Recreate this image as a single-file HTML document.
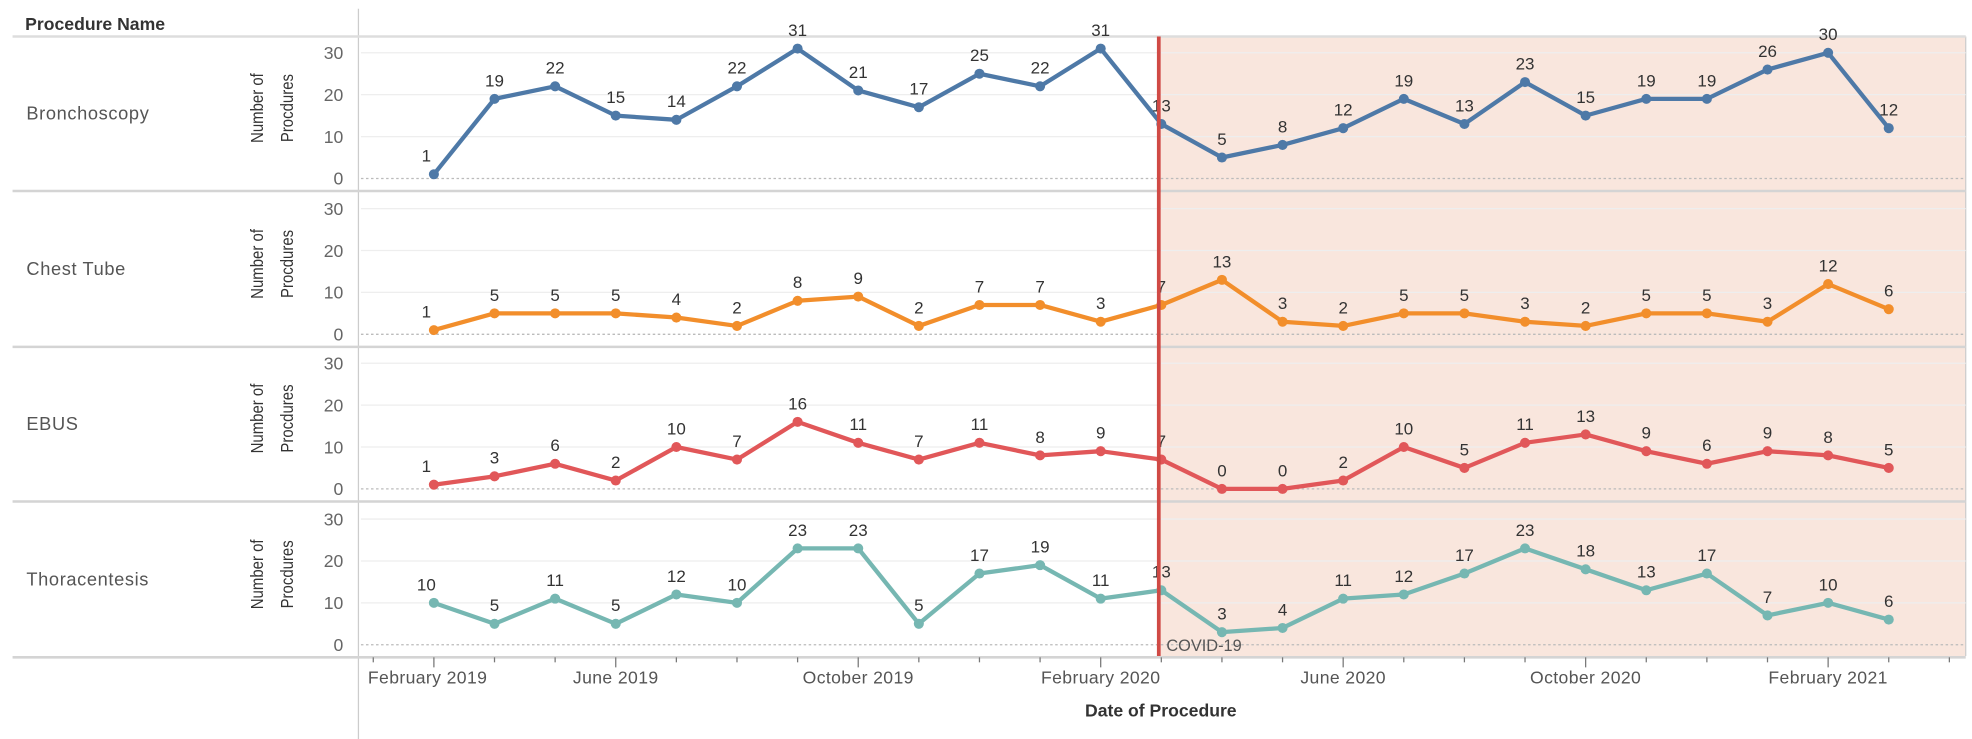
<!DOCTYPE html>
<html><head><meta charset="utf-8"><style>
html,body{margin:0;padding:0;background:#fff;}
svg{display:block;font-family:"Liberation Sans",sans-serif;}
</style></head><body>
<svg id="chart" width="1972" height="739" viewBox="0 0 1568 588" preserveAspectRatio="none" xmlns="http://www.w3.org/2000/svg">
<rect x="0" y="0" width="1568" height="588" fill="#fff"/>
<rect x="923" y="29" width="640" height="493" fill="#f9e6dd"/>
<g id="frame"></g>
<g id="marks"></g>
<text x="20" y="24" font-size="14" font-weight="bold" fill="#333">Procedure Name</text>
<text x="923" y="570" font-size="14" font-weight="bold" fill="#333" text-anchor="middle">Date of Procedure</text>
</svg>
<script>
const categories = ["Bronchoscopy","Chest Tube","EBUS","Thoracentesis"];
const bronchoscopy = [1,19,22,15,14,22,31,21,17,25,22,31,13,5,8,12,19,13,23,15,19,19,26,30,12];
const chestTube = [1,5,5,5,4,2,8,9,2,7,7,3,7,13,3,2,5,5,3,2,5,5,3,12,6];
const ebus = [1,3,6,2,10,7,16,11,7,11,8,9,7,0,0,2,10,5,11,13,9,6,9,8,5];
const thoracentesis = [10,5,11,5,12,10,23,23,5,17,19,11,13,3,4,11,12,17,23,18,13,17,7,10,6];
const yTicks = [0,10,20,30];
const xTickLabels = ["February 2019","June 2019","October 2019","February 2020","June 2020","October 2020","February 2021"];
const xTickIndex = [0,3,7,11,15,19,23];
const covidIndex = 12;

const series=[bronchoscopy,chestTube,ebus,thoracentesis];
const colors=["#4e79a7","#f28e2b","#e15759","#76b7b2"];
const NS="http://www.w3.org/2000/svg";
const frame=document.getElementById('frame'), marks=document.getElementById('marks');
function el(tag,attrs,parent,text){const e=document.createElementNS(NS,tag);for(const k in attrs)e.setAttribute(k,attrs[k]);if(text!==undefined)e.textContent=text;parent.appendChild(e);return e;}
const panelTop=[29,153,276,400], panelH=123;
function x(i){return 345+i*48.2;}
function y(p,v){return panelTop[p]+113-v*(100/30);}

let l=el('line',{x1:285,y1:7,x2:285,y2:588,stroke:'#ccc'},frame);

l=el('line',{x1:1563,y1:29,x2:1563,y2:522,stroke:'#ccc'},frame);

l=el('line',{x1:10,y1:29,x2:1563,y2:29,stroke:'#ddd','stroke-width':2},frame);


for(let p=0;p<4;p++){
  const g=el('g',{},frame);
  
  
  const d=el('line',{x1:10,y1:panelTop[p]+panelH,x2:1563,y2:panelTop[p]+panelH,stroke:'#d4d4d4','stroke-width':2},g);
  
  const c=el('text',{x:21,y:panelTop[p]+66,'font-size':14.5,fill:'#555','letter-spacing':'0.5'},g,categories[p]);
  
  yTicks.forEach(t=>{
    const gl=el('line',{x1:287,x2:1563,y1:y(p,t),y2:y(p,t),stroke:t===0?'#bbb':'#eee','stroke-dasharray':t===0?'2,2':'none'},g);
    
    const tl=el('text',{x:273,y:y(p,t)+5,'font-size':14,fill:'#666','text-anchor':'end'},g,String(t));
    
  });
  const cy=panelTop[p]+57;
  const a=el('text',{transform:`translate(209,${cy}) rotate(-90) scale(0.85,1)`,'font-size':14,fill:'#333','text-anchor':'middle'},g,'Number of');
  
  const b=el('text',{transform:`translate(233,${cy}) rotate(-90) scale(0.85,1)`,'font-size':14,fill:'#333','text-anchor':'middle'},g,'Procdures');
  

  const s=series[p];
  const line=el('polyline',{points:s.map((v,i)=>x(i)+','+y(p,v)).join(' '),fill:'none',stroke:colors[p],'stroke-width':3.4,'stroke-linejoin':'round'},marks);
  
  s.forEach((v,i)=>{
    const pt=el('circle',{cx:x(i),cy:y(p,v),r:4,fill:colors[p]},marks);
    
    const lb=el('text',{x:x(i)-(i===0?6:0),y:y(p,v)-10,'font-size':13.5,fill:'#333','text-anchor':'middle'},marks,String(v));
    
  });
}
const cx=x(covidIndex)-2;
l=el('line',{x1:cx,y1:29,x2:cx,y2:522,stroke:'#d04a45','stroke-width':3},marks);

const ct=el('text',{x:cx+6,y:518,'font-size':13,fill:'#555'},marks,'COVID-19');

for(let i=-1;i<=25;i++){
  const major=xTickIndex.includes(i);
  const t=el('line',{x1:x(i),x2:x(i),y1:523,y2:major?531:527,stroke:'#777'},frame);
  
}
xTickLabels.forEach((lab,k)=>{
  const t=el('text',{x:x(xTickIndex[k])-(k===0?5:0),y:544,'font-size':14,fill:'#555','text-anchor':'middle','letter-spacing':'0.3'},frame,lab);
  
});
</script>
</body></html>
